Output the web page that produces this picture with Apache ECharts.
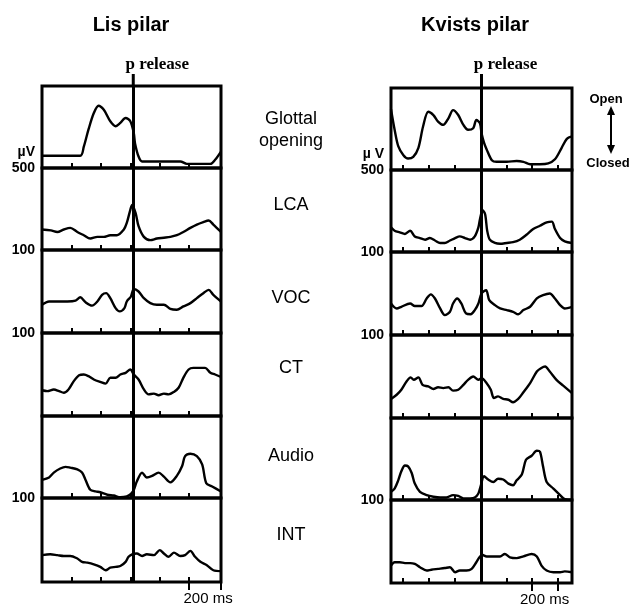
<!DOCTYPE html>
<html>
<head>
  <meta charset="utf-8">
  <title>Lis pilar / Kvists pilar</title>
  <script src="https://cdn.jsdelivr.net/npm/echarts@6/dist/echarts.min.js"></script>
  <style>
    html, body { margin: 0; padding: 0; background: #fff; }
  </style>
</head>
<body>
  <div id="main" style="width:632px;height:609px;"></div>
  <script type="text/javascript">
    // time in ms, value in % of panel height
    var panelNames = ['Glottal\nopening', 'LCA', 'VOC', 'CT', 'Audio', 'INT'];

    var lisGlottal = [[-50,15],[15,15],[21,26],[29,47],[38,67],[46,76],[55,71],[66,57],[75,51],[83,55],[92,61],[100,57],[106,42],[108,30],[114,14],[120,8],[185,8],[196,5],[236,5],[244,10],[254,20]];
    var lisLCA = [[-50,25],[-35,24],[-24,22],[-13,25],[-2,27],[10,22],[21,18],[32,14],[44,16],[55,16],[66,18],[77,18],[89,25],[94,33],[100,49],[103,55],[109,45],[114,29],[123,16],[134,12],[145,14],[157,15],[168,16],[179,18],[190,22],[202,27],[213,31],[224,34],[233,36],[241,31],[254,22]];
    var lisVOC = [[-50,34],[-38,38],[-7,38],[7,39],[15,43],[24,37],[35,33],[44,38],[52,46],[59,48],[66,42],[75,30],[82,26],[90,30],[94,38],[101,44],[106,53],[114,50],[123,42],[134,36],[145,34],[157,34],[168,29],[179,28],[190,32],[202,36],[213,42],[224,48],[233,52],[241,46],[254,38]];
    var lisCT = [[-50,31],[-41,30],[-30,32],[-21,30],[-13,28],[-5,32],[4,42],[13,49],[21,50],[29,48],[38,44],[49,41],[58,39],[66,46],[75,46],[83,50],[92,52],[100,56],[106,50],[114,44],[123,32],[131,26],[140,27],[148,25],[157,27],[165,26],[174,29],[182,34],[190,46],[199,56],[207,58],[219,58],[227,58],[236,52],[244,50],[254,47]];
    var lisAudio = [[-50,22],[-38,25],[-30,31],[-19,36],[-10,38],[-2,37],[10,35],[18,31],[24,22],[32,10],[41,8],[49,7],[61,4],[72,3],[83,1],[94,2],[101,5],[106,10],[111,20],[120,31],[128,25],[137,27],[148,31],[157,26],[168,19],[179,27],[188,39],[193,51],[202,54],[213,51],[222,41],[229,18],[239,14],[254,8]];
    var lisINT = [[-50,32],[-36,33],[-24,32],[-13,31],[-2,31],[10,28],[18,24],[27,23],[38,21],[49,18],[58,14],[66,17],[75,18],[83,19],[92,24],[97,30],[103,33],[111,34],[120,31],[128,33],[140,32],[150,38],[157,34],[165,30],[174,35],[185,31],[193,32],[202,37],[210,30],[219,24],[230,20],[241,14],[254,13]];

    var kvGlottal = [[-23,74],[-16,49],[-9,29],[1,18],[10,14],[20,16],[30,27],[39,53],[49,71],[59,67],[68,59],[78,55],[88,63],[97,73],[107,67],[117,55],[126,49],[136,51],[142,61],[149,57],[152,45],[157,33],[162,25],[172,12],[181,10],[201,10],[220,11],[233,10],[246,7],[265,7],[281,8],[294,13],[307,27],[317,38],[327,41]];
    var kvLCA = [[-23,30],[-16,26],[-6,24],[4,22],[14,26],[23,19],[33,17],[43,15],[52,17],[62,14],[72,11],[81,11],[91,14],[101,17],[110,19],[120,17],[130,15],[139,19],[146,30],[149,40],[154,51],[159,46],[163,26],[168,15],[178,11],[188,10],[201,11],[213,12],[226,15],[239,21],[252,28],[265,32],[278,36],[288,37],[294,28],[304,17],[313,13],[327,11]];
    var kvVOC = [[-23,38],[-12,32],[-3,34],[14,38],[23,35],[36,35],[46,44],[54,49],[62,44],[72,32],[81,24],[91,28],[97,38],[105,44],[113,38],[122,26],[131,25],[139,30],[146,38],[152,50],[161,54],[167,42],[178,36],[188,32],[201,30],[213,28],[223,25],[233,30],[246,34],[259,44],[271,48],[284,50],[294,44],[304,36],[313,32],[327,34]];
    var kvCT = [[-23,23],[-12,28],[-3,34],[7,44],[15,49],[21,46],[30,49],[38,40],[49,38],[59,35],[68,37],[78,36],[88,37],[97,33],[107,34],[117,40],[126,46],[136,50],[146,46],[152,48],[162,42],[170,34],[176,24],[184,26],[194,23],[204,22],[213,19],[223,23],[233,31],[246,42],[259,56],[267,60],[275,62],[284,56],[297,46],[310,39],[327,30]];
    var kvAudio = [[-23,10],[-16,14],[-9,24],[-3,35],[4,42],[10,41],[17,33],[23,20],[33,10],[46,6],[59,4],[72,3],[84,3],[97,6],[107,5],[117,2],[130,2],[139,3],[146,8],[150,16],[157,29],[165,25],[175,22],[184,26],[194,25],[204,20],[213,18],[220,24],[230,31],[238,49],[249,54],[259,60],[265,59],[271,41],[278,22],[291,14],[304,6],[313,1],[327,0]];
    var kvINT = [[-23,21],[-16,25],[-6,25],[4,24],[14,24],[23,23],[33,19],[46,15],[55,16],[68,17],[81,18],[91,19],[101,13],[110,15],[123,15],[133,17],[142,25],[148,31],[153,34],[162,32],[175,32],[188,32],[197,35],[207,31],[220,30],[233,32],[249,35],[259,32],[268,21],[278,15],[291,13],[304,13],[313,14],[327,13]];

    var lisTicks = [0, 50, 100, 150, 200];
    var kvTicks = [0, 50, 100, 150, 200, 250, 300];
    var lisRelease = 105;
    var kvRelease = 152;
    // y labels per panel: [value, text]
    var lisYLabels = [[[0, '500'], [19, 'µV']], [[0, '100']], [[0, '100']], [], [[0, '100']], []];
    var kvYLabels = [[[0, '500'], [19, 'µ V']], [[0, '100']], [[0, '100']], [], [[0, '100']], []];

    var FONT = '"Liberation Sans", Arial, Helvetica, sans-serif';

    var columns = [
      { title: 'Lis pilar', titleX: 131, left: 42, width: 179, tops: [86, 168, 250, 333, 416, 498], bottom: 582,
        min: -50, max: 254, release: lisRelease, ticks: lisTicks, scaleTicks: [200, 254], scaleLabel: 232,
        data: [lisGlottal, lisLCA, lisVOC, lisCT, lisAudio, lisINT], yLabels: lisYLabels },
      { title: 'Kvists pilar', titleX: 475, left: 391, width: 181, tops: [88, 170, 252, 335, 418, 500], bottom: 583,
        min: -23, max: 327, release: kvRelease, ticks: kvTicks, scaleTicks: [250, 300], scaleLabel: 274,
        data: [kvGlottal, kvLCA, kvVOC, kvCT, kvAudio, kvINT], yLabels: kvYLabels }
    ];

    var grids = [], xAxes = [], yAxes = [], series = [];

    columns.forEach(function (col) {
      col.data.forEach(function (d, i) {
        var top = col.tops[i];
        var next = i < 5 ? col.tops[i + 1] : col.bottom;
        var gi = grids.length;
        grids.push({ left: col.left, top: top, width: col.width, height: next - top,
          show: true, borderColor: '#000', borderWidth: 3, backgroundColor: 'transparent' });
        xAxes.push({
          type: 'value', gridIndex: gi, min: col.min, max: col.max,
          axisLine: { show: false },
          axisTick: { show: true, inside: true, length: 5, customValues: col.ticks, lineStyle: { color: '#000', width: 2 } },
          axisLabel: { show: false },
          splitLine: { show: false }
        });
        var labs = col.yLabels[i];
        yAxes.push({
          type: 'value', gridIndex: gi, min: 0, max: 100,
          axisLine: { show: false }, axisTick: { show: false }, splitLine: { show: false },
          axisLabel: {
            show: labs.length > 0, margin: 7, color: '#000', fontSize: 14, fontWeight: 'bold', fontFamily: FONT,
            customValues: labs.map(function (l) { return l[0]; }),
            formatter: function (v) {
              for (var k = 0; k < labs.length; k++) if (labs[k][0] === v) return labs[k][1];
              return '';
            }
          }
        });
        series.push({
          type: 'line', xAxisIndex: xAxes.length - 1, yAxisIndex: yAxes.length - 1,
          data: d, showSymbol: false, symbol: 'none', smooth: 0.3,
          lineStyle: { color: '#000', width: 2.4 }, silent: true,
          markLine: {
            silent: true, symbol: ['none', 'none'], label: { show: false },
            lineStyle: { color: '#000', width: 3, type: 'solid' },
            data: [{ xAxis: col.release }]
          }
        });
        if (i === 5) {
          // scale bar ticks under the last panel
          xAxes.push({
            type: 'value', gridIndex: gi, min: col.min, max: col.max, position: 'bottom',
            axisLine: { show: false },
            axisTick: { show: true, inside: false, length: 8, customValues: col.scaleTicks, lineStyle: { color: '#000', width: 2 } },
            axisLabel: { show: true, margin: 9, color: '#000', fontSize: 15, fontFamily: FONT,
              customValues: [col.scaleLabel], formatter: function () { return '200 ms'; } },
            splitLine: { show: false }
          });
        }
      });
    });

    var myChart = echarts.init(document.getElementById('main'));
    myChart.setOption({
      animation: false,
      backgroundColor: '#fff',
      grid: grids, xAxis: xAxes, yAxis: yAxes, series: series
    });

    // text and p release stubs
    var g = [];
    var xIdx = 0;
    columns.forEach(function (col) {
      g.push({ type: 'text', x: col.titleX, y: 25, style: { text: col.title, font: 'bold 20px ' + FONT, fill: '#000', align: 'center', verticalAlign: 'middle' } });
      var px = myChart.convertToPixel({ xAxisIndex: xIdx }, col.release);
      g.push({ type: 'line', shape: { x1: px, y1: 74, x2: px, y2: col.tops[0] }, style: { stroke: '#000', lineWidth: 3 } });
      g.push({ type: 'text', x: px + 24, y: 65, style: { text: 'p release', font: 'bold 17px "Liberation Serif", "Times New Roman", serif', fill: '#000', align: 'center', verticalAlign: 'middle' } });
      xIdx += 7;
    });
    var nameY = [130, 205, 298, 368, 456, 535];
    panelNames.forEach(function (n, i) {
      g.push({ type: 'text', x: 291, y: nameY[i], style: { text: n, font: '18px ' + FONT, fill: '#000', align: 'center', verticalAlign: 'middle', lineHeight: 22 } });
    });
    g.push({ type: 'text', x: 606, y: 99, style: { text: 'Open', font: 'bold 13px ' + FONT, fill: '#000', align: 'center', verticalAlign: 'middle' } });
    g.push({ type: 'text', x: 608, y: 163, style: { text: 'Closed', font: 'bold 13px ' + FONT, fill: '#000', align: 'center', verticalAlign: 'middle' } });
    g.push({ type: 'line', shape: { x1: 611, y1: 111, x2: 611, y2: 149 }, style: { stroke: '#000', lineWidth: 2 } });
    g.push({ type: 'polygon', shape: { points: [[611, 106], [607, 115], [615, 115]] }, style: { fill: '#000' } });
    g.push({ type: 'polygon', shape: { points: [[611, 154], [607, 145], [615, 145]] }, style: { fill: '#000' } });

    myChart.setOption({ graphic: g });
  </script>
</body>
</html>
